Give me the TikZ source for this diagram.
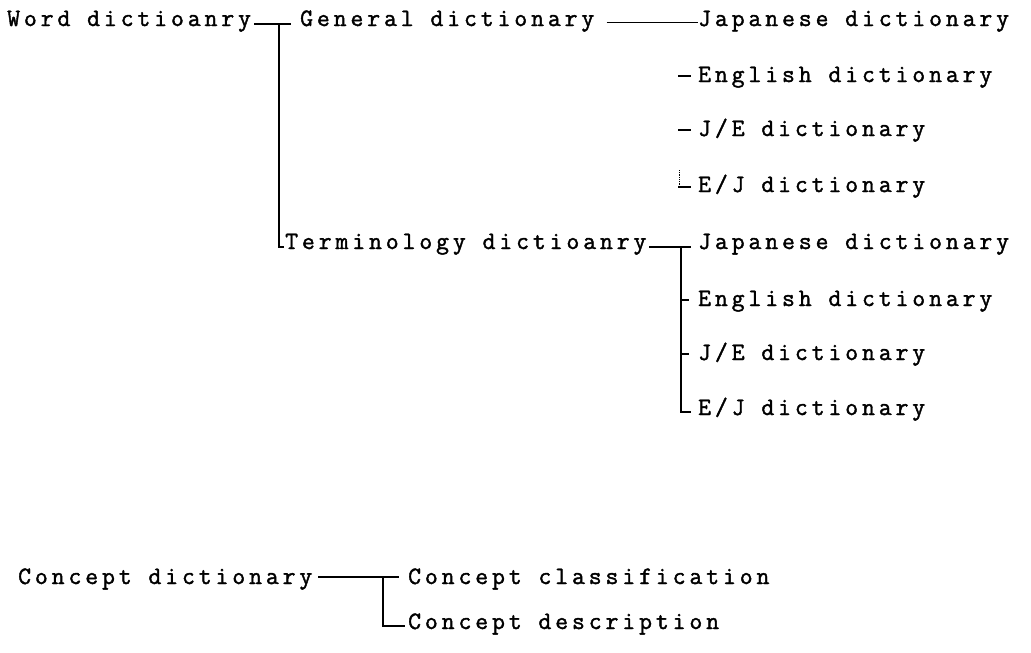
\documentclass[tikz,border=0pt]{standalone}
\usepackage{fontspec}
\usetikzlibrary{calc}
\newfontfamily\dictfam[LetterSpace=15.6,FakeBold=1.6]{Latin Modern Mono}
\newcommand{\dictfont}{\dictfam\fontsize{25}{25}\selectfont}
\begin{document}
\begin{tikzpicture}[x=1pt,y=-1pt,
  txt/.style={anchor=base west,inner sep=0pt,font=\dictfont},
  ln/.style={line width=1.3pt,line cap=rect},
  thinln/.style={line width=0.8pt}]
\useasboundingbox[fill=white] (0,0) rectangle (1031,653);
% nodes
\node[txt] (word) at (7,26) {Word dictioanry};
\node[txt] (gen) at (300,26) {General dictionary};
\node[txt] (gj) at (698,26) {Japanese dictionary};
\node[txt] (ge) at (698,82) {English dictionary};
\node[txt] (gje) at (698,136) {J/E dictionary};
\node[txt] (gej) at (698,192) {E/J dictionary};
\node[txt] (term) at (285,249) {Terminology dictioanry};
\node[txt] (tj) at (698,249) {Japanese dictionary};
\node[txt] (te) at (698,306) {English dictionary};
\node[txt] (tje) at (698,360) {J/E dictionary};
\node[txt] (tej) at (698,415) {E/J dictionary};
\node[txt] (cd) at (18,584) {Concept dictionary};
\node[txt] (cc) at (408,584) {Concept classification};
\node[txt] (cdesc) at (408,629) {Concept description};
% word dictionary tree
\coordinate (wt) at (279,24);
\draw[ln] (wt -| word.base east) ++(3,0) -- ($(gen.base west |- wt)+(-10,0)$);
\draw[ln] (wt) |- ($(term.base west)+(-2,-2)$);
% general dictionary
\draw[thinln] ($(gen.base east)+(12,-4)$) -- ($(gj.base west)+(0,-4)$);
\draw[ln] ($(ge.base west)+(-19,-6)$) -- ($(ge.base west)+(-8,-6)$);
\draw[ln] ($(gje.base west)+(-19,-6)$) -- ($(gje.base west)+(-8,-6)$);
\draw[thinln,densely dotted] ($(gej.base west)+(-19,-22)$) -- ($(gej.base west)+(-19,-5)$);
\draw[ln] ($(gej.base west)+(-19,-5)$) -- ($(gej.base west)+(-8,-5)$);
% terminology dictionary
\coordinate (tt) at ($(tj.base west)+(-17,-2)$);
\draw[ln] ($(term.base east)+(3,-2)$) -- ($(tt)+(9,0)$);
\draw[ln] (tt) |- ($(tej.base west)+(-8,-3)$);
\draw[ln] ($(te.base west)+(-17,-6)$) -- ($(te.base west)+(-10,-6)$);
\draw[ln] ($(tje.base west)+(-17,-6)$) -- ($(tje.base west)+(-10,-6)$);
% concept dictionary
\coordinate (ct) at ($(cc.base west)+(-25,-7)$);
\draw[ln] ($(cd.base east)+(6,-7)$) -- ($(cc.base west)+(-10,-7)$);
\draw[ln] (ct) |- ($(cdesc.base west)+(-4,-3)$);
\end{tikzpicture}
\end{document}
